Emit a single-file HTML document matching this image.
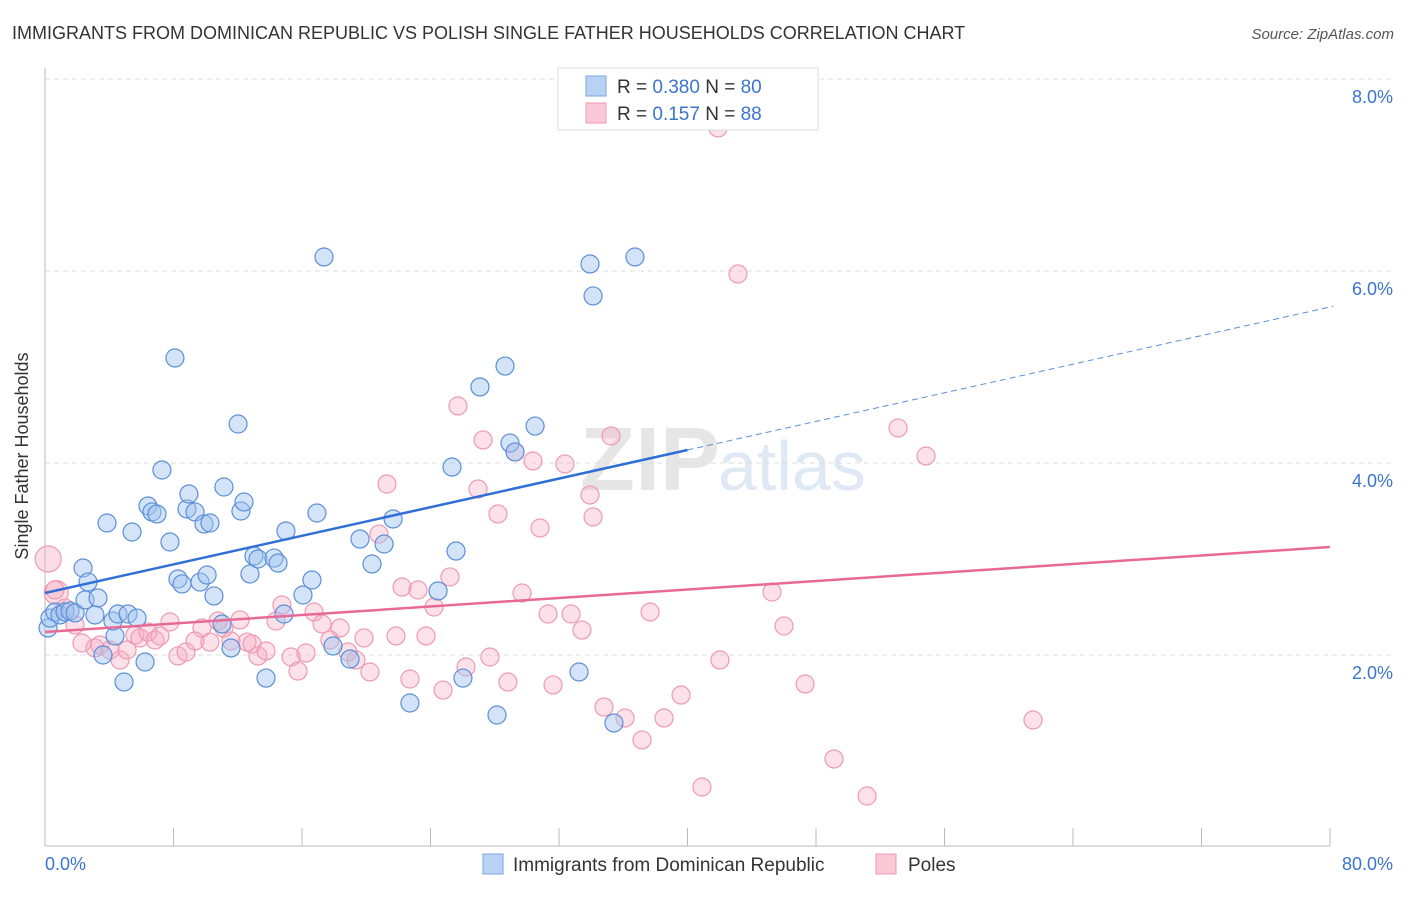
<!DOCTYPE html>
<html><head><meta charset="utf-8"><style>
body{margin:0;background:#fff;font-family:"Liberation Sans",sans-serif}
svg text{font-family:"Liberation Sans",sans-serif}
</style></head><body>
<svg id="c" width="1406" height="892" viewBox="0 0 1406 892" xmlns="http://www.w3.org/2000/svg">
<text x="12" y="39" font-size="18" fill="#333">IMMIGRANTS FROM DOMINICAN REPUBLIC VS POLISH SINGLE FATHER HOUSEHOLDS CORRELATION CHART</text>
<text x="1394" y="39" font-size="15" fill="#555" text-anchor="end" font-style="italic">Source: ZipAtlas.com</text>
<text x="720" y="490" font-size="90" fill="#e6e6e6" text-anchor="end" font-family="Liberation Serif" font-weight="bold">ZIP</text>
<text x="718" y="490" font-size="70" fill="#dfe8f5">atlas</text>
<g id="grid"></g>
<line x1="45" y1="68" x2="45" y2="846" stroke="#bbb"/>
<line x1="45" y1="846" x2="1330" y2="846" stroke="#bbb"/>
<g id="xt"></g>
<text x="28" y="456" font-size="18" fill="#333" text-anchor="middle" transform="rotate(-90 28 456)">Single Father Households</text>
<text x="45" y="870" font-size="18" fill="#3a75d0">0.0%</text>
<text x="1393" y="870" font-size="18" fill="#3a75d0" text-anchor="end">80.0%</text>
<g id="pts"></g>
<g id="lines"></g>
<g>
<rect x="558" y="68" width="260" height="62" fill="#fff" stroke="#ddd"/>
<rect x="586" y="76" width="20" height="20" fill="#b8d2f4" stroke="#7aa6e0"/>
<rect x="586" y="103" width="20" height="20" fill="#fbc8d6" stroke="#ee9ab2"/>
<text x="617" y="93" font-size="19" fill="#333">R = <tspan fill="#3a75d0">0.380</tspan>   N = <tspan fill="#3a75d0">80</tspan></text>
<text x="617" y="120" font-size="19" fill="#333">R =  <tspan fill="#3a75d0">0.157</tspan>   N = <tspan fill="#3a75d0">88</tspan></text>
</g>
<g>
<rect x="483" y="854" width="20" height="20" fill="#b8d2f4" stroke="#7aa6e0"/>
<text x="513" y="871" font-size="19" fill="#333">Immigrants from Dominican Republic</text>
<rect x="876" y="854" width="20" height="20" fill="#fbc8d6" stroke="#ee9ab2"/>
<text x="908" y="871" font-size="19" fill="#333">Poles</text>
</g>
</svg>
<script>
const yTicks=[2,4,6,8];
const yTickLabels=["2.0%","4.0%","6.0%","8.0%"];
const xTicks=[0,8,16,24,32,40,48,56,64,72,80];
const bluePx=[[48,628],[50,618],[55,612],[60,615],[65,612],[70,611],[75,613],[83,568],[88,582],[85,600],[98,598],[95,615],[107,523],[103,655],[115,636],[113,621],[118,614],[124,682],[128,614],[132,532],[137,618],[145,662],[148,506],[152,512],[157,514],[162,470],[170,542],[175,358],[178,579],[182,584],[187,509],[189,494],[195,512],[200,582],[204,524],[207,575],[210,523],[214,596],[224,487],[222,624],[231,648],[238,424],[241,511],[244,502],[250,574],[254,556],[258,559],[266,678],[274,558],[278,563],[284,614],[286,531],[303,595],[312,580],[317,513],[324,257],[333,646],[350,659],[360,539],[372,564],[384,544],[393,519],[410,703],[438,591],[452,467],[456,551],[463,678],[480,387],[497,715],[505,366],[510,443],[515,452],[535,426],[579,672],[590,264],[593,296],[614,723],[635,257]];
const pinkPx=[[55,590],[65,608],[75,625],[82,643],[95,648],[100,645],[110,650],[120,660],[127,650],[135,635],[140,638],[148,632],[155,640],[160,636],[170,622],[178,656],[186,652],[195,641],[202,628],[210,642],[218,621],[224,628],[231,641],[240,620],[247,642],[252,644],[258,656],[266,651],[276,621],[282,605],[291,657],[298,671],[306,653],[314,612],[322,624],[330,640],[340,628],[348,652],[356,660],[364,638],[370,672],[379,534],[387,484],[396,636],[402,587],[410,679],[418,590],[426,636],[434,607],[443,690],[450,577],[458,406],[466,667],[478,489],[483,440],[490,657],[498,514],[508,682],[515,452],[522,593],[533,461],[540,528],[548,614],[553,685],[565,464],[571,614],[582,630],[590,495],[593,517],[604,707],[611,436],[625,718],[642,740],[650,612],[664,718],[681,695],[702,787],[718,128],[720,660],[738,274],[772,592],[784,626],[805,684],[834,759],[867,796],[898,428],[926,456],[1033,720]];
const X=v=>45+v/80*1285, Y=v=>847-v*96;
const ix=p=>(p-45)/1285*80, iy=p=>(847-p)/96;
const blueX=bluePx.map(p=>+ix(p[0]).toFixed(2)), blueY=bluePx.map(p=>+iy(p[1]).toFixed(3));
const pinkX=pinkPx.map(p=>+ix(p[0]).toFixed(2)), pinkY=pinkPx.map(p=>+iy(p[1]).toFixed(3));
const ns="http://www.w3.org/2000/svg";
function mk(t,a,parent){const e=document.createElementNS(ns,t);for(const k in a)e.setAttribute(k,a[k]);document.getElementById(parent).appendChild(e);return e;}
yTicks.forEach((t,i)=>{
 const l=mk('line',{x1:45,x2:1393,y1:Y(t),y2:Y(t),stroke:'#ddd','stroke-dasharray':'5,4'},'grid');
 
 
 const tx=mk('text',{x:1393,y:Y(t)+24,'font-size':18,fill:'#3a75d0','text-anchor':'end'},'grid');
 tx.textContent=yTickLabels[i];
 
 
});
xTicks.forEach(t=>{
 const l=mk('line',{x1:X(t),x2:X(t),y1:828,y2:846,stroke:'#bbb'},'xt');
 
 
});
// big pink outlier points
[[0.2,3.0,13],[0.7,2.65,12]].forEach(p=>{
 const c=mk('circle',{cx:X(p[0]),cy:Y(p[1]),r:p[2],fill:'rgba(246,170,192,0.4)',stroke:'#ee9ab2','stroke-width':1.2},'pts');
 
 
});
pinkX.forEach((x,i)=>{
 const c=mk('circle',{cx:X(x),cy:Y(pinkY[i]),r:9,fill:'rgba(246,170,192,0.35)',stroke:'#ee9ab2','stroke-width':1.2},'pts');
 
 
});
blueX.forEach((x,i)=>{
 const c=mk('circle',{cx:X(x),cy:Y(blueY[i]),r:9,fill:'rgba(160,196,240,0.45)',stroke:'#5b8fd8','stroke-width':1.2},'pts');
 
 
});
const blueLine=[2.64,0.00425*96/1285*80];
const bs=(593-450)/96/40, b0=(847-593)/96;
let e=mk('line',{x1:X(0),y1:Y(b0),x2:X(40),y2:Y(b0+bs*40),stroke:'#2f6fd6','stroke-width':2.5},'lines');


e=mk('line',{x1:X(40),y1:Y(b0+bs*40),x2:X(80.2),y2:Y(b0+bs*80.2),stroke:'#5b8fd8','stroke-width':1,'stroke-dasharray':'6,4'},'lines');


const p0=(847-632)/96, p1=(847-547)/96;
e=mk('line',{x1:X(0),y1:Y(p0),x2:X(80),y2:Y(p1),stroke:'#e86a94','stroke-width':2.5},'lines');


</script>
</body></html>
